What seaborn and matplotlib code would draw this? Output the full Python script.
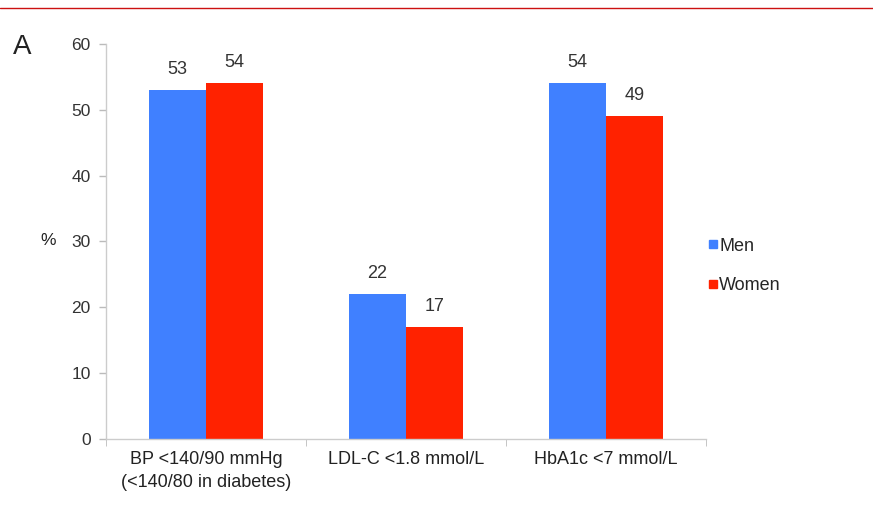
import matplotlib
matplotlib.use("Agg")
import matplotlib.pyplot as plt
from matplotlib.lines import Line2D
import seaborn as sns
import pandas as pd

categories = ["BP <140/90 mmHg\n(<140/80 in diabetes)", "LDL-C <1.8 mmol/L", "HbA1c <7 mmol/L"]
men = [53, 22, 54]
women = [54, 17, 49]
groups = ["Men", "Women"]
colors = ["#4080ff", "#ff2200"]

df = pd.DataFrame({
    "target": categories * 2,
    "sex": ["Men"] * 3 + ["Women"] * 3,
    "pct": men + women,
})

sns.set_style("white")
plt.rcParams["font.family"] = ["Liberation Sans", "DejaVu Sans"]

fig = plt.figure(figsize=(8.73, 5.05), dpi=100)
ax = fig.add_axes([0.1214, 0.1307, 0.6876, 0.7822])

sns.barplot(data=df, x="target", y="pct", hue="sex", hue_order=groups,
            palette=colors, width=0.57, saturation=1, linewidth=0,
            ax=ax, legend=False)

for cont in ax.containers:
    ax.bar_label(cont, padding=9, fontsize=13, color="#333333")

ax.set_ylim(0, 60)
ax.set_xlim(-0.5, 2.5)
ax.set_yticks(range(0, 61, 10))
ax.set_xlabel("")
ax.set_ylabel("")
ax.tick_params(axis="y", labelsize=12.5, colors="#bbbbbb", labelcolor="#333333",
               length=5, width=1, direction="out", left=True, pad=6)
ax.tick_params(axis="x", labelsize=13, labelcolor="#222222", length=0, pad=9)
for lbl in ax.get_xticklabels():
    lbl.set_linespacing(1.45)
ax.set_xticks([-0.5, 0.5, 1.5, 2.5], minor=True)
ax.tick_params(axis="x", which="minor", length=5, colors="#bbbbbb", bottom=True)

for s in ["top", "right"]:
    ax.spines[s].set_visible(False)
for s in ["left", "bottom"]:
    ax.spines[s].set_color("#cccccc")
    ax.spines[s].set_linewidth(1)

handles = [Line2D([], [], marker="s", linestyle="", markersize=5.5,
                  markerfacecolor=c, markeredgecolor=c) for c in colors]
ax.legend(handles, groups, loc="center left", bbox_to_anchor=(0.975, 0.438),
          frameon=False, fontsize=13, handlelength=0.6, handletextpad=0.05,
          labelspacing=1.25)

fig.text(0.055, 0.523, "%", fontsize=12.5, color="#222222", ha="center", va="center")
fig.text(0.025, 0.906, "A", fontsize=20, color="#222222", ha="center", va="center")
fig.add_artist(Line2D([0, 1], [0.984, 0.984], color="#cc1111", linewidth=1,
                      transform=fig.transFigure))

fig.savefig("out.png", dpi=100)
